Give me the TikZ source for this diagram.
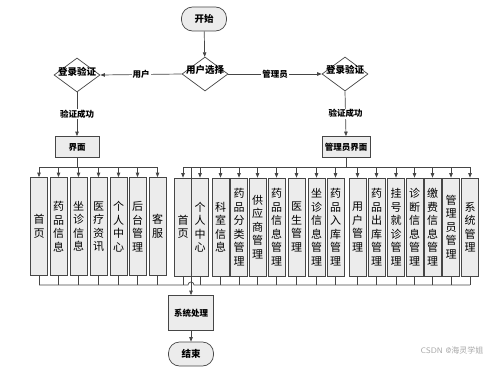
\documentclass[tikz,border=0pt]{standalone}
\usepackage{fontspec}
\newfontfamily\cjk{Noto Sans CJK SC}
\usetikzlibrary{shapes.geometric,arrows.meta}
\definecolor{linegray}{RGB}{70,70,70}
\definecolor{boxgray}{RGB}{236,236,236}
\newcommand{\zerobox}[1]{\smash{\makebox[0pt]{#1}}}

\begin{document}
\begin{tikzpicture}[x=1pt, y=-1pt, line width=0.7pt, color=linegray,
  >={Triangle[length=4.5pt, width=3.5pt]},
  term/.style={draw, fill=boxgray, text=black, rounded corners=11pt, minimum width=45, minimum height=24, inner sep=0pt, font=\cjk\bfseries\fontsize{9.5}{9.5}\selectfont},
  decide/.style={diamond, draw, fill=white, text=black, minimum width=46, minimum height=34, inner sep=0pt, font=\cjk\bfseries\fontsize{9.5}{9.5}\selectfont},
  panel/.style={draw, fill=boxgray, text=black, minimum height=21, inner sep=0pt, font=\cjk\bfseries\fontsize{8.5}{8.5}\selectfont},
  item/.style={draw, fill=boxgray, text=black, minimum width=17, minimum height=98, inner sep=0pt, align=center, font=\cjk\fontsize{11}{13.5}\selectfont},
  tag/.style={fill=white, text=black, inner sep=1pt, font=\cjk\bfseries\fontsize{8.5}{8.5}\selectfont}]
  \useasboundingbox (0,0) rectangle (500,369);

  \node[term] (start) at (204,19) {开始};
  \node[decide] (choice) at (205,74) {\zerobox{用户选择}};
  \node[decide] (ulogin) at (77,75) {\zerobox{登录验证}};
  \node[decide] (alogin) at (345,74) {\zerobox{登录验证}};
  \node[panel, minimum width=44] (uui) at (77,147) {界面};
  \node[panel, minimum width=48] (aui) at (346,147) {管理员界面};
  \node[panel, minimum width=45, minimum height=35] (sys) at (191,313) {系统处理};
  \node[term] (end) at (191,354) {结束};

  \draw[->] (start) -- (choice);
  \draw[->] (choice.west) -- node[tag] {用户} (ulogin.east);
  \draw[->] (choice.east) -- node[tag] {管理员} (alogin.west);
  \draw[->] (ulogin.south) -- node[tag] {验证成功} (uui.north);
  \draw[->] (alogin.south) -- node[tag] {验证成功} (aui.north);

  \foreach \n/\x/\t in {1/39/{首\\页}, 2/58.5/{药\\品\\信\\息}, 3/78.5/{坐\\诊\\信\\息},
      4/98.5/{医\\疗\\资\\讯}, 5/118.5/{个\\人\\中\\心}, 6/137.5/{后\\台\\管\\理}, 7/157.5/{客\\服}}
    \node[item] (l\n) at (\x,226.5) {\t};

  \foreach \n/\x/\t in {1/183/{首\\页}, 2/200/{个\\人\\中\\心}, 3/220.5/{科\\室\\信\\息},
      4/239/{药\\品\\分\\类\\管\\理}, 5/257.5/{供\\应\\商\\管\\理}, 6/276.5/{药\\品\\信\\息\\管\\理},
      7/296.5/{医\\生\\管\\理}, 8/316.5/{坐\\诊\\信\\息\\管\\理}, 9/335.5/{药\\品\\入\\库\\管\\理},
      10/357.5/{用\\户\\管\\理}, 11/376.5/{药\\品\\出\\库\\管\\理}, 12/396/{挂\\号\\就\\诊\\管\\理},
      13/414.5/{诊\\断\\信\\息\\管\\理}, 14/432.5/{缴\\费\\信\\息\\管\\理}, 15/451/{管\\理\\员\\管\\理},
      16/470/{系\\统\\管\\理}}
    \node[item] (r\n) at (\x,227) {\t};

  \coordinate (ub) at (77,167);
  \coordinate (ab) at (346,167);
  \coordinate (jn) at (191,167);
  \coordinate (bb) at (0,285);
  \coordinate (hop) at (188,285);

  \draw (uui.south) -- (ub);
  \draw (l1.north |- ub) -- (l7.north |- ub);
  \foreach \i in {1,...,7}
    \draw[->] (l\i.north |- ub) -- (l\i.north);
  \draw (aui.south) -- (ab);
  \draw (r1.north |- ab) -- (r16.north |- ab);
  \foreach \i in {1,...,16}
    \draw[->] (r\i.north |- ab) -- (r\i.north);

  \foreach \i in {1,...,7}
    \draw (l\i.south) -- (l\i.south |- bb);
  \foreach \i in {1,...,16}
    \draw (r\i.south) -- (r\i.south |- bb);
  \draw (l1.south |- bb) -- (hop) arc (180:360:3) -- (r16.south |- bb);
  \draw[->] (jn) -- (sys.north);
  \draw[->] (sys) -- (end);

  \node[text=gray!70, font=\sffamily\fontsize{8}{8}\selectfont] (mark) at (452,350) {CSDN @{\cjk 海灵学姐}};
\end{tikzpicture}
\end{document}
